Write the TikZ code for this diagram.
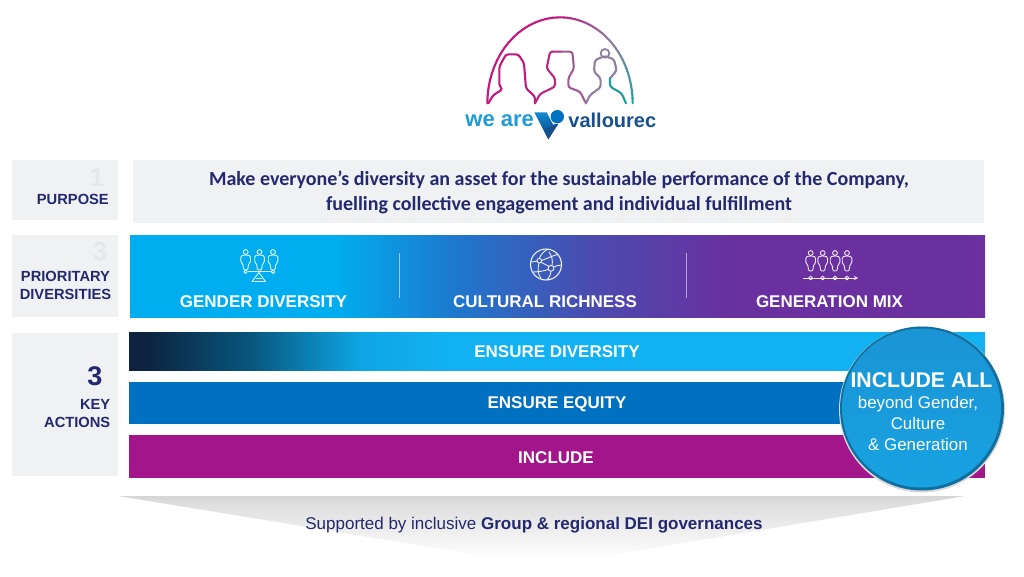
\documentclass[tikz,border=0pt]{standalone}
\usepackage{fontspec}
\setmainfont{Liberation Sans}
\newfontfamily\calfont{Carlito}
\usetikzlibrary{calc}
\definecolor{navytxt}{HTML}{23296F}
\definecolor{boxgray}{HTML}{F0F1F3}
\definecolor{numgray}{HTML}{E6E7E9}
\definecolor{eqblue}{HTML}{0070C0}
\definecolor{incl}{HTML}{A3158A}
\definecolor{lgA}{HTML}{C2187F}
\definecolor{lgB}{HTML}{8E7F9F}
\definecolor{lgC}{HTML}{1F9EA0}
\definecolor{wecol}{HTML}{1F9BD7}
\definecolor{valcol}{HTML}{17508F}
\definecolor{circ}{HTML}{18A2E2}
\definecolor{circtop}{HTML}{1A94D4}
\definecolor{circrim}{HTML}{0F709F}
\definecolor{bA}{HTML}{00AEEF}
\definecolor{bB}{HTML}{1E78CD}
\definecolor{bC}{HTML}{4B4BAF}
\definecolor{bD}{HTML}{6930A0}
\definecolor{bE}{HTML}{7030A0}
\definecolor{dA}{HTML}{0D2340}
\definecolor{dB}{HTML}{08557D}
\definecolor{dC}{HTML}{0EA5E4}
\definecolor{dD}{HTML}{12B2F2}
\definecolor{gvA}{HTML}{DEDEDE}
\definecolor{gvB}{HTML}{D6D6D6}
\definecolor{vA}{HTML}{053C82}
\definecolor{vB}{HTML}{148CD2}
\pgfdeclarehorizontalshading{bandA}{100bp}{
 color(0bp)=(bA);
 color(37bp)=(bA);
 color(44bp)=(bB);
 color(52bp)=(bC);
 color(60bp)=(bD);
 color(100bp)=(bE)}
\pgfdeclarehorizontalshading{bandB}{100bp}{
 color(0bp)=(dA);
 color(26bp)=(dA);
 color(32bp)=(dB);
 color(38.5bp)=(dC);
 color(44bp)=(dD);
 color(100bp)=(dD)}
\pgfdeclareverticalshading{govshade}{100bp}{
 color(0bp)=(white);
 color(30bp)=(white);
 color(70bp)=(gvA);
 color(75bp)=(gvB);
 color(100bp)=(gvB)}
\pgfdeclareverticalshading{veeshade}{100bp}{
 color(0bp)=(vA);
 color(25bp)=(vA);
 color(75bp)=(vB);
 color(100bp)=(vB)}
\tikzset{
 sidebox/.style={fill=boxgray,draw=none},
 sidetxt/.style={font=\bfseries\fontsize{14.7}{17.5}\selectfont,text=navytxt,align=right,anchor=east,inner sep=0pt},
 ghostnum/.style={font=\bfseries\fontsize{26}{26}\selectfont,text=numgray,inner sep=0pt},
 bandtxt/.style={font=\bfseries\fontsize{17}{18}\selectfont,text=white,inner sep=0pt},
 actiontxt/.style={font=\bfseries\fontsize{17}{18}\selectfont,text=white,inner sep=0pt},
 icon/.style={draw=white,line width=0.9pt,line join=round,opacity=.9},
 logoline/.style={line width=2.1pt,line cap=round,line join=round,rounded corners=2.5pt},
}
\newcommand{\personico}[2]{%
 \draw[icon] (#1,#2+2.5) circle (2.4);
 \draw[icon,rounded corners=1.2pt] (#1-1.6,#2+5.5) -- (#1-4.8,#2+6.5) -- (#1-4.8,#2+13) -- (#1-3,#2+14) -- (#1-2,#2+20.5) -- (#1+2,#2+20.5) -- (#1+3,#2+14) -- (#1+4.8,#2+13) -- (#1+4.8,#2+6.5) -- (#1+1.6,#2+5.5) -- cycle;}
\begin{document}
\begin{tikzpicture}[x=1pt,y=-1pt]
\useasboundingbox (0,0) rectangle (1024,576);
\fill[white] (0,0) rectangle (1024,576);
% logo
\begin{scope}[shift={(440,0)},x=0.3333pt,y=-0.3333pt]
 \foreach \i in {0,...,17}{
  \pgfmathsetmacro{\aa}{180-\i*5}\pgfmathsetmacro{\ab}{180-(\i+1)*5}
  \draw[line width=2.1pt,line cap=round,color=lgA] ({360+218*cos(\aa)},{310-258*sin(\aa)}) -- ({360+218*cos(\ab)},{310-258*sin(\ab)});
 }
 \foreach \i in {0,...,14}{
  \pgfmathsetmacro{\aa}{90-\i*3}\pgfmathsetmacro{\ab}{90-(\i+1)*3}
  \pgfmathsetmacro{\p}{\i*100/14}
  \draw[line width=2.1pt,line cap=round,color=lgB!\p!lgA] ({360+218*cos(\aa)},{310-258*sin(\aa)}) -- ({360+218*cos(\ab)},{310-258*sin(\ab)});
 }
 \foreach \i in {0,...,14}{
  \pgfmathsetmacro{\aa}{45-\i*3}\pgfmathsetmacro{\ab}{45-(\i+1)*3}
  \pgfmathsetmacro{\p}{\i*100/14}
  \draw[line width=2.1pt,line cap=round,color=lgC!\p!lgB] ({360+218*cos(\aa)},{310-258*sin(\aa)}) -- ({360+218*cos(\ab)},{310-258*sin(\ab)});
 }
 \draw[logoline,color=lgA] (145,310) -- (160,285) -- (188,268) -- (178,258) -- (178,200) -- (198,163) -- (235,163) -- (252,190) -- (258,265) -- (285,290) -- (285,310);
 \draw[logoline,color=lgA!85!lgB] (285,310) -- (300,282) -- (345,260) -- (345,235) -- (320,205) -- (330,155) -- (365,155);
 \draw[logoline,color=lgA!35!lgB] (365,155) -- (397,155) -- (402,205) -- (385,235) -- (385,262) -- (420,275) -- (438,310);
 \draw[logoline,color=lgB] (438,310) -- (450,285) -- (482,262) -- (482,235) -- (462,215) -- (465,180) -- (495,168) -- (522,178) -- (530,212) -- (510,235);
 \draw[line width=1.8pt,color=lgB] (495,160) circle (13);
 \draw[logoline,color=lgC] (510,235) -- (510,260) -- (545,280) -- (558,310);
 \shade[shading=veeshade] (283,337) -- (320,337) -- (345,385) -- (325,418) -- cycle;
 \fill[color=valcol] (325,418) -- (312,392) -- (345,372) -- (355,372) -- cycle;
 \fill[color=eqblue] (352,350) circle (20);
 \node[font=\bfseries\fontsize{22}{22}\selectfont,text=wecol,inner sep=0pt] (wearetxt) at (179,362) {we are};
 \node[font=\bfseries\fontsize{20}{20}\selectfont,text=valcol,inner sep=0pt] (valltxt) at (517,362) {vallourec};
\end{scope}
% side boxes
\fill[sidebox] (12,160) rectangle (118,220);
\fill[sidebox] (12,235) rectangle (118,317);
\fill[sidebox] (12,333) rectangle (118,476);
\node[ghostnum] (n1) at (97,178) {1};
\node[sidetxt] (purp) at (109,199.5) {PURPOSE};
\node[ghostnum] (n3) at (100,252) {3};
\node[sidetxt,align=center,anchor=center] (prio) at (65.5,285.5) {PRIORITARY\\DIVERSITIES};
\node[font=\bfseries\fontsize{27}{27}\selectfont,text=navytxt,inner sep=0pt] (k3) at (95,376) {3};
\node[sidetxt] (keyact) at (110.5,413.5) {KEY\\ACTIONS};
% purpose
\fill[boxgray] (133,160) rectangle (984,223);
\node[font=\calfont\bfseries\fontsize{20}{24.5}\selectfont,text=navytxt,align=center,inner sep=0pt] (ptxt) at (559,192.5) {Make everyone’s diversity an asset for the sustainable performance of the Company,\\fuelling collective engagement and individual fulfillment};
% diversities
\shade[shading=bandA] (130,235) rectangle (985,317.5);
\draw[white,opacity=.55,line width=1pt] (399.5,253) -- (399.5,298);
\draw[white,opacity=.55,line width=1pt] (686,253) -- (686,298);
\node[bandtxt] (gd) at (263.5,301.5) {GENDER DIVERSITY};
\node[bandtxt] (cr) at (545,301.5) {CULTURAL RICHNESS};
\node[bandtxt] (gm) at (829.5,301.5) {GENERATION MIX};
% gender icon
\personico{245.7}{249.5}\personico{259.5}{249.5}\personico{273}{249.5}
\draw[icon] (247.5,271.7) -- (271,271.7);
\draw[icon] (245.5,271.7) circle (1.8);
\draw[icon] (273,271.7) circle (1.8);
\draw[icon] (259,272.5) -- (252,281.5) -- (265.5,281.5) -- cycle;
\draw[icon] (256,278) -- (262,278);
% globe icon
\draw[icon,line width=1.1pt] (546,264.5) circle (15.5);
\draw[icon] (539.3,258.5) .. controls (541,254) and (544,251) .. (548,249.2);
\draw[icon] (539,263) .. controls (538,268) and (537,273) .. (541,278.5);
\draw[icon] (541.5,260.5) .. controls (546,259) and (554,255) .. (558,254.5);
\draw[icon] (531,262) .. controls (533,262) and (535,261.5) .. (537,261);
\draw[icon] (533,272) .. controls (538,272) and (544,271) .. (548.7,269.3);
\draw[icon] (541.5,262.5) .. controls (544,264) and (547,265) .. (549.3,266.5);
\draw[icon] (549,252) .. controls (552,256) and (553,261) .. (552,265.3);
\draw[icon] (551,271) .. controls (551,274) and (549,278) .. (547,280);
\draw[icon] (553.5,267) .. controls (556,266) and (559,265) .. (561.3,265);
\draw[icon] (539.3,260.7) circle (2.3);
\draw[icon] (551,268.3) circle (2.9);
% generation icon
\foreach \px in {810.7,822.7,835,847}{\personico{\px}{250.5}}
\draw[icon,-stealth] (803,278) -- (858,278);
\foreach \px in {810.7,822.7,835,847}{\draw[icon] (\px,278) circle (1.9);}
% actions
\shade[shading=bandB] (129,332) rectangle (985,370.5);
\fill[eqblue] (129,382) rectangle (985,424);
\fill[incl] (129,435) rectangle (985,478);
\node[actiontxt] (a1) at (557,352) {ENSURE DIVERSITY};
\node[actiontxt] (a2) at (557,404.5) {ENSURE EQUITY};
\node[actiontxt] (a3) at (556,457.5) {INCLUDE};
% governance
\shade[shading=govshade] (118,496) -- (965,496) -- (545,566) -- cycle;
\node[font=\fontsize{17}{18}\selectfont,text=navytxt,inner sep=0pt] (gov) at (534,525.5) {Supported by inclusive \textbf{Group \& regional DEI governances}};
% circle
\fill[gray!30] (922,409.5) circle (83);
\fill[circrim] (922,408.5) circle (82);
\shade[top color=circtop,bottom color=circ] (921.5,408) circle (79.5);
\node[font=\bfseries\fontsize{21.3}{22}\selectfont,text=white,inner sep=0pt] (ia) at (921.5,380) {INCLUDE ALL};
\node[font=\fontsize{16.9}{20.8}\selectfont,text=white,align=center,inner sep=0pt] (ib) at (918,423.5) {beyond Gender,\\Culture\\\& Generation};
\end{tikzpicture}
\end{document}
